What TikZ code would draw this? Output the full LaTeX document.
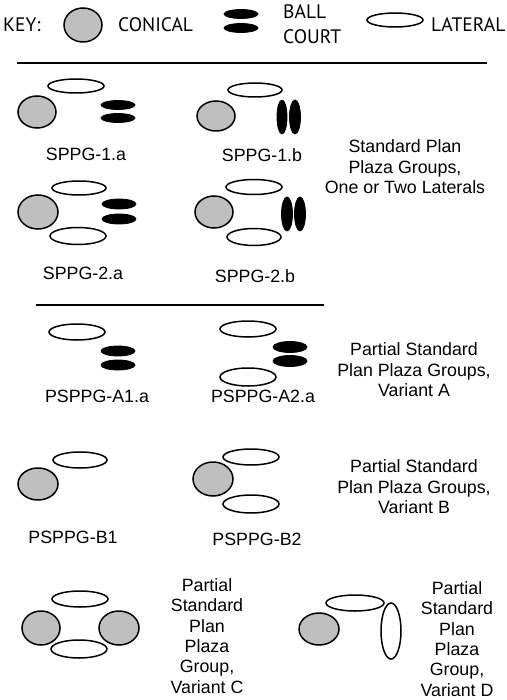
\documentclass[tikz,border=0pt]{standalone}
\usepackage{fontspec}
\setmainfont{Liberation Sans}
\newfontfamily\keyfont{PT Sans}
\definecolor{conegray}{RGB}{191,191,191}
\begin{document}
\begin{tikzpicture}[x=1pt,y=-1pt,
 conical/.style={draw=black,fill=conegray,line width=1.5pt},
 lateral/.style={draw=black,fill=white,line width=1.5pt},
 court/.style={draw=black,fill=black,line width=0.8pt},
 lbl/.style={inner sep=0pt,font=\fontsize{17.8}{20.4}\selectfont},
 desc/.style={lbl,align=center},
 keytxt/.style={inner sep=0pt,anchor=west,font=\keyfont\fontsize{19.5}{22}\selectfont},
 rulestyle/.style={line width=1.6pt}]
\useasboundingbox (0,0) rectangle (506,700);
% key
\node[keytxt] (keyword) at (3,25) {KEY:};
\draw[conical] (83,25) ellipse [x radius=19, y radius=17];
\node[keytxt] (kcon) at (118,25) {CONICAL};
\draw[court] (241,14) ellipse [x radius=17, y radius=4.5];
\draw[court] (241,28) ellipse [x radius=17, y radius=4.5];
\node[keytxt] (kball) at (283,12) {BALL};
\node[keytxt] (kcourt) at (283,37) {COURT};
\draw[lateral] (395,20) ellipse [x radius=28, y radius=7];
\node[keytxt] (klat) at (431,25) {LATERAL};
\coordinate (r1a) at (17,63); \coordinate (r1b) at (487,63);
\draw[rulestyle] (r1a) -- (r1b);
% SPPG-1.a
\draw[lateral] (76,86) ellipse [x radius=28, y radius=7];
\draw[conical] (37,112) ellipse [x radius=19, y radius=16];
\draw[court] (118,105) ellipse [x radius=17, y radius=4.5];
\draw[court] (118,118) ellipse [x radius=17, y radius=4.5];
\node[lbl] (s1a) at (86,154) {SPPG-1.a};
% SPPG-1.b
\draw[lateral] (255,90) ellipse [x radius=27, y radius=7];
\draw[conical] (216,116) ellipse [x radius=19, y radius=15];
\draw[court] (282,117) ellipse [x radius=5, y radius=17];
\draw[court] (295,117) ellipse [x radius=5.5, y radius=17];
\node[lbl] (s1b) at (262,155) {SPPG-1.b};
\node[desc] (dsppg) at (405,167) {Standard Plan\\Plaza Groups,\\One or Two Laterals};
% SPPG-2.a
\draw[lateral] (79,188) ellipse [x radius=27, y radius=7];
\draw[conical] (38,212) ellipse [x radius=20, y radius=17];
\draw[court] (119,204) ellipse [x radius=17, y radius=5];
\draw[court] (119,219) ellipse [x radius=17, y radius=5];
\draw[lateral] (78,236) ellipse [x radius=28, y radius=8.5];
\node[lbl] (s2a) at (83,273) {SPPG-2.a};
% SPPG-2.b
\draw[lateral] (254,187) ellipse [x radius=28, y radius=7.5];
\draw[conical] (214,212) ellipse [x radius=19, y radius=16];
\draw[court] (287,214) ellipse [x radius=5.5, y radius=17];
\draw[court] (300,214) ellipse [x radius=5.5, y radius=17];
\draw[lateral] (254,237) ellipse [x radius=27, y radius=8.5];
\node[lbl] (s2b) at (255,276) {SPPG-2.b};
\coordinate (r2a) at (36,305); \coordinate (r2b) at (324,305);
\draw[rulestyle] (r2a) -- (r2b);
% PSPPG-A1.a
\draw[lateral] (77,332) ellipse [x radius=28, y radius=8];
\draw[court] (118,351) ellipse [x radius=17, y radius=5];
\draw[court] (118,365) ellipse [x radius=17, y radius=5];
\node[lbl] (pa1) at (97,396) {PSPPG-A1.a};
% PSPPG-A2.a
\draw[lateral] (248,329) ellipse [x radius=28, y radius=8];
\draw[court] (290,347) ellipse [x radius=17, y radius=5.5];
\draw[court] (290,361) ellipse [x radius=17, y radius=5.5];
\draw[lateral] (248,377) ellipse [x radius=28, y radius=9];
\node[lbl] (pa2) at (263,396) {PSPPG-A2.a};
\node[desc] (dpa) at (414,370) {Partial Standard\\Plan Plaza Groups,\\Variant A};
% PSPPG-B1
\draw[lateral] (80,460) ellipse [x radius=27, y radius=8];
\draw[conical] (38,484) ellipse [x radius=20, y radius=16];
\node[lbl] (pb1) at (73,537) {PSPPG-B1};
% PSPPG-B2
\draw[lateral] (251,457) ellipse [x radius=28, y radius=8];
\draw[conical] (213,479) ellipse [x radius=20, y radius=17];
\draw[lateral] (251,504) ellipse [x radius=28, y radius=9];
\node[lbl] (pb2) at (257,539) {PSPPG-B2};
\node[desc] (dpb) at (414,487) {Partial Standard\\Plan Plaza Groups,\\Variant B};
% Variant C
\draw[lateral] (80,599) ellipse [x radius=28, y radius=8];
\draw[conical] (41,628) ellipse [x radius=19, y radius=17];
\draw[conical] (119,628) ellipse [x radius=20, y radius=17];
\draw[lateral] (79,649) ellipse [x radius=28, y radius=9];
\node[desc] (dpc) at (207,636) {Partial\\Standard\\Plan\\Plaza\\Group,\\Variant C};
% Variant D
\draw[lateral] (355,603) ellipse [x radius=29, y radius=8];
\draw[conical] (319,629) ellipse [x radius=20, y radius=16];
\draw[lateral] (391,631) ellipse [x radius=10, y radius=28];
\node[desc] (dpd) at (457,639) {Partial\\Standard\\Plan\\Plaza\\Group,\\Variant D};
\end{tikzpicture}
\end{document}
